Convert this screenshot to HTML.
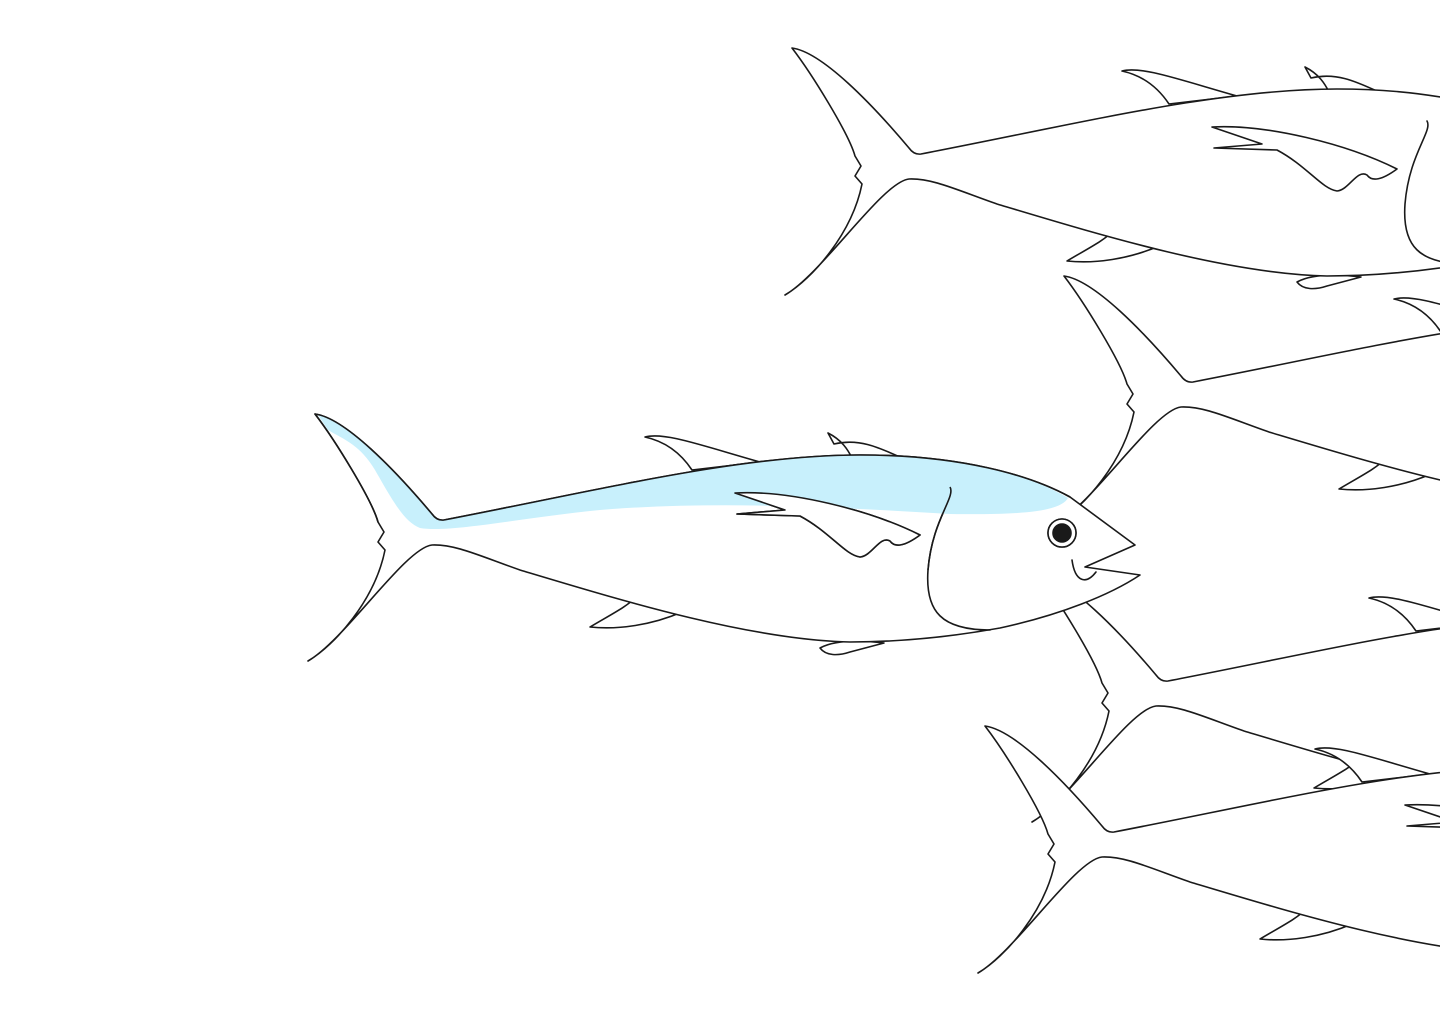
<!DOCTYPE html>
<html><head><meta charset="utf-8"><style>html,body{margin:0;padding:0;background:#fff}svg{display:block}</style></head>
<body>
<svg width="1440" height="1024" viewBox="0 0 1440 1024" xmlns="http://www.w3.org/2000/svg">
<defs>
<g id="fish" fill="#fff" stroke="#1a1a1a" stroke-width="1.6" stroke-linejoin="round" stroke-linecap="round">
  <path d="M645,437 C665,432 700,445 760,462 L692,470 C682,455 668,442 645,437 Z"/>
  <path d="M828,433 L834,444 C860,438 880,448 902,458 L852,458 C848,450 842,440 828,433 Z"/>
  <path d="M590,627 C610,615 628,606 636,597 L682,612 C652,625 618,630 590,627 Z"/>
  <path d="M820,648 C835,640 860,640 884,643 L850,652 C838,656 826,656 820,648 Z"/>
  <path d="M444,520 C600,490 740,455 860,455 C960,455 1030,475 1070,497 L1135,545 L1085,567 L1140,575 C1110,595 1060,615 1000,628 C950,637 900,642 850,642 C750,640 620,600 520,570 C480,556 455,544 432,545 C405,548 345,640 308,661 C335,645 375,600 385,550 L378,542 L384,532 L378,522 C372,500 335,440 315,414 C345,418 395,470 432,514 Q437,521 444,520 Z"/>
  <path d="M950,487 C956,497 932,520 928,570 C925,612 942,630 990,630" fill="none"/>
  <path d="M735,493 C790,490 870,510 920,535 C905,546 895,548 890,541 C880,535 872,556 860,557 C845,555 830,532 800,516 L737,514 L785,510 Z"/>
  <path d="M1072,560 C1075,582 1086,585 1096,572" fill="none"/>
  <circle cx="1062" cy="533" r="14"/>
  <circle cx="1062" cy="533" r="9" fill="#1a1a1a"/>
</g>
</defs>
<use href="#fish" x="477" y="-366"/>
<use href="#fish" x="749" y="-138"/>
<use href="#fish" x="724" y="161"/>
<use href="#fish" x="670" y="312"/>
<g>
  <use href="#fish" x="0" y="0"/>
  <path d="M318,415 C345,418 395,470 432,514 Q437,521 444,520 C600,490 740,455 860,455 C960,455 1030,475 1068,498 C1060,512 1020,515 950,514 C850,508 720,500 600,510 C520,518 450,533 420,528 C405,522 395,505 375,470 C360,445 345,440 328,430 Z" fill="#c8f0fc" stroke="none"/>
  <g fill="none" stroke="#1a1a1a" stroke-width="1.6" stroke-linejoin="round">
    <path d="M444,520 C600,490 740,455 860,455 C960,455 1030,475 1070,497"/>
    <path d="M378,522 C372,500 335,440 315,414 C345,418 395,470 432,514 Q437,521 444,520"/>
    <path d="M950,487 C956,497 932,520 928,570"/>
    <path d="M735,493 C790,490 870,510 920,535 C905,546 895,548 890,541 C880,535 872,556 860,557 C845,555 830,532 800,516 L737,514 L785,510 Z" fill="#fff"/>
    <circle cx="1062" cy="533" r="14" fill="#fff"/>
    <circle cx="1062" cy="533" r="9" fill="#1a1a1a"/>
  </g>
</g>
</svg>
</body></html>
